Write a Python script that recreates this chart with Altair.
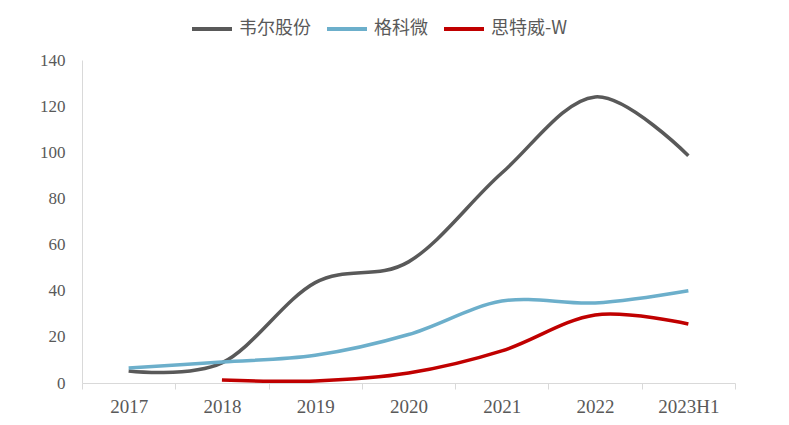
import altair as alt
import pandas as pd

years = ["2017", "2018", "2019", "2020", "2021", "2022", "2023H1"]
series_names = ["韦尔股份", "格科微", "思特威-W"]
will_semi = [5.2, 8.7, 43.5, 52.5, 91.0, 124.0, 98.5]
galaxycore = [6.5, 9.1, 12.0, 21.0, 35.5, 34.7, 40.0]
smartsens = [None, 1.3, 0.9, 4.3, 13.9, 29.5, 25.6]
colors = ["#595959", "#6CAFCB", "#C00000"]

rows = []
for name, vals in zip(series_names, [will_semi, galaxycore, smartsens]):
    for y, v in zip(years, vals):
        if v is not None:
            rows.append({"year": y, "series": name, "value": v})
df = pd.DataFrame(rows)

serif = "Times New Roman"

chart = alt.Chart(df).mark_line(interpolate="cardinal", strokeWidth=3.5).encode(
    x=alt.X("year:O", sort=years,
            scale=alt.Scale(type="band", paddingInner=0, paddingOuter=0),
            axis=alt.Axis(title=None, labelAngle=0, tickBand="extent",
                          labelFont=serif, labelFontSize=19,
                          labelColor="#595959", domainColor="#d9d9d9",
                          tickColor="#d9d9d9", tickSize=6, labelPadding=8)),
    y=alt.Y("value:Q", scale=alt.Scale(domain=[0, 140], nice=False),
            axis=alt.Axis(title=None, values=list(range(0, 141, 20)), grid=False,
                          ticks=False, labelFont=serif, labelFontSize=17,
                          labelColor="#595959", domainColor="#d9d9d9", labelPadding=17)),
    color=alt.Color("series:N", sort=series_names,
                    scale=alt.Scale(domain=series_names, range=colors),
                    legend=alt.Legend(title=None, orient="none", direction="horizontal",
                                      legendX=108, legendY=-53, symbolType="stroke",
                                      symbolSize=1600, symbolStrokeWidth=4,
                                      labelFont="Noto Sans CJK SC", labelFontSize=18,
                                      labelColor="#595959", columnPadding=8,
                                      labelOffset=5)),
).properties(
    width=653, height=323,
    autosize=alt.AutoSizeParams(type="none"),
    padding={"left": 74, "top": 52, "right": 46, "bottom": 42},
).configure_view(stroke=None)

chart.save("out.html", embed_options={"renderer": "svg", "actions": False})
